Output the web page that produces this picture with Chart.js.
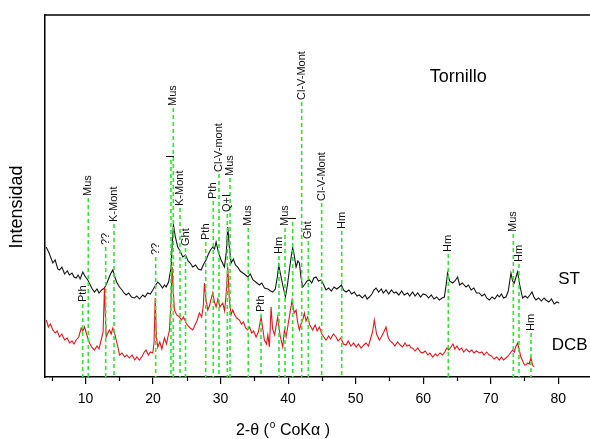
<!DOCTYPE html>
<html>
<head>
<meta charset="utf-8">
<title>Tornillo - DRX</title>
<script src="https://cdn.jsdelivr.net/npm/chart.js"></script>
<style>
  body { margin: 0; overflow: hidden; background: #fff; }
  #wrap { width: 600px; height: 439px; }
</style>
</head>
<body>
<div id="wrap"><canvas id="xrd" width="600" height="439"></canvas></div>
<script>
const FONT = "'Liberation Sans', Arial, Helvetica, sans-serif";

// ST (negro) - 2theta e intensidad
const stX = [4.18, 4.6, 5.16, 5.5, 5.9, 6.15, 6.5, 6.9, 7.3, 7.63, 8.0, 8.3, 8.62, 8.9, 9.2, 9.6, 9.9, 10.34, 10.7, 11.0,
  11.33, 11.7, 12.0, 12.4, 12.81, 13.1, 13.4, 13.7, 14.04, 14.3, 14.6, 15.03, 15.4, 15.7, 16.02, 16.4, 16.8, 17.25, 17.6, 18.0,
  18.48, 18.8, 19.2, 19.6, 19.96, 20.3, 20.7, 21.0, 21.4, 21.7, 21.94, 22.3, 22.68, 22.85, 23.02, 23.3, 23.66, 24.0, 24.4, 24.8,
  25.2, 25.5, 25.88, 26.3, 26.7, 27.12, 27.5, 27.86, 28.2, 28.5, 28.84, 29.1, 29.34, 29.7, 30.08, 30.57, 30.85, 31.06, 31.3, 31.56,
  31.9, 32.2, 32.54, 32.9, 33.3, 33.7, 34.02, 34.4, 34.8, 35.2, 35.75, 36.1, 36.5, 37.0, 37.4, 37.72, 38.1, 38.4, 38.61, 38.9,
  39.2, 39.6, 39.9, 40.19, 40.45, 40.68, 40.9, 41.18, 41.45, 41.67, 41.9, 42.16, 42.5, 42.8, 43.15, 43.5, 43.8, 44.14, 44.5, 44.88,
  45.2, 45.62, 46.0, 46.4, 46.8, 47.2, 47.59, 47.9, 48.2, 48.58, 49.0, 49.4, 49.8, 50.2, 50.55, 51.0, 51.4, 51.7, 52.03, 52.4,
  52.7, 53.02, 53.4, 53.8, 54.1, 54.5, 54.9, 55.3, 55.7, 55.98, 56.4, 56.8, 57.2, 57.7, 58.0, 58.44, 58.8, 59.2, 59.6, 60.0,
  60.42, 60.8, 61.2, 61.6, 62.0, 62.39, 62.8, 63.13, 63.4, 63.62, 63.9, 64.36, 64.7, 65.1, 65.4, 65.8, 66.34, 66.7, 67.1, 67.5,
  67.9, 68.31, 68.7, 69.1, 69.4, 69.79, 70.2, 70.6, 71.0, 71.27, 71.6, 71.9, 72.26, 72.6, 72.8, 73.0, 73.25, 73.49, 73.75, 73.98,
  74.3, 74.72, 75.1, 75.46, 75.8, 76.11, 76.4, 76.7, 77.1, 77.5, 77.9, 78.18, 78.6, 79.0, 79.4, 79.8, 80.15];
const stY = [130, 124, 114, 117, 108, 107, 110, 103, 106, 102, 104, 100, 99, 102, 98, 105, 101, 97, 92, 88,
  85, 88, 84, 87, 89, 93, 98, 103, 107, 101, 95, 90, 87, 84, 82, 84, 80, 79, 81, 78,
  82, 80, 84, 83, 87, 91, 95, 93, 89, 92, 90, 95, 110, 135, 152, 140, 130, 126, 120, 122,
  116, 114, 110, 112, 108, 107, 113, 117, 123, 127, 130, 128, 135, 124, 117, 110, 125, 150, 130, 114,
  118, 112, 110, 106, 104, 102, 100, 103, 97, 95, 92, 94, 89, 88, 86, 85, 88, 100, 112, 102,
  92, 80, 92, 107, 120, 129, 122, 110, 116, 114, 100, 90, 93, 96, 97, 94, 99, 100, 96, 97,
  93, 87, 89, 86, 90, 88, 90, 92, 87, 85, 87, 83, 85, 81, 82, 79, 82, 78, 80, 83,
  87, 89, 85, 88, 84, 87, 83, 87, 84, 85, 82, 86, 82, 84, 81, 85, 81, 84, 80, 83,
  82, 79, 82, 78, 80, 77, 79, 80, 92, 104, 96, 94, 96, 100, 92, 94, 90, 92, 87, 89,
  84, 84, 81, 83, 79, 77, 80, 78, 82, 80, 83, 79, 80, 86, 95, 104, 96, 94, 100, 105,
  92, 79, 81, 79, 82, 85, 80, 77, 79, 76, 79, 77, 75, 78, 73, 75, 74];

// DCB (rojo)
const dcbX = [4.18, 4.5, 4.8, 5.16, 5.5, 5.8, 6.15, 6.5, 6.9, 7.3, 7.63, 8.0, 8.3, 8.62, 9.0, 9.36, 9.6, 9.85, 10.2, 10.59,
  10.9, 11.33, 11.7, 12.0, 12.32, 12.6, 12.81, 12.95, 13.06, 13.3, 13.55, 13.8, 14.04, 14.3, 14.54, 14.8, 15.03, 15.4, 15.8, 16.1,
  16.51, 16.9, 17.3, 17.6, 17.99, 18.4, 18.7, 18.98, 19.3, 19.6, 19.96, 20.15, 20.32, 20.5, 20.7, 21.0, 21.3, 21.69, 22.0, 22.2,
  22.43, 22.65, 22.83, 23.0, 23.17, 23.5, 23.91, 24.2, 24.5, 24.9, 25.2, 25.5, 25.88, 26.2, 26.5, 26.87, 27.2, 27.45, 27.61, 27.8,
  28.1, 28.4, 28.6, 28.84, 29.1, 29.34, 29.6, 29.9, 30.32, 30.6, 30.85, 31.06, 31.3, 31.55, 31.8, 32.1, 32.4, 32.79, 33.1, 33.4,
  33.7, 34.02, 34.3, 34.6, 34.9, 35.26, 35.6, 36.0, 36.25, 36.49, 36.8, 37.0, 37.23, 37.48, 37.7, 38.0, 38.2, 38.46, 38.8, 39.2,
  39.45, 39.7, 39.94, 40.3, 40.59, 40.9, 41.18, 41.4, 41.67, 42.0, 42.2, 42.41, 42.65, 42.9, 43.2, 43.64, 44.0, 44.3, 44.63, 45.0,
  45.3, 45.62, 46.0, 46.3, 46.7, 47.1, 47.4, 47.8, 48.2, 48.58, 48.9, 49.3, 49.7, 50.06, 50.4, 50.8, 51.2, 51.54, 51.9, 52.2,
  52.5, 52.77, 53.1, 53.51, 53.8, 54.1, 54.5, 54.8, 55.1, 55.48, 55.8, 56.2, 56.6, 56.96, 57.3, 57.6, 57.95, 58.2, 58.44, 58.8,
  59.2, 59.6, 59.92, 60.3, 60.7, 61.0, 61.4, 61.8, 62.1, 62.5, 62.88, 63.2, 63.5, 63.8, 64.12, 64.4, 64.7, 65.0, 65.35, 65.7,
  66.0, 66.4, 66.83, 67.2, 67.5, 67.9, 68.31, 68.7, 69.0, 69.4, 69.79, 70.1, 70.5, 70.9, 71.27, 71.6, 71.9, 72.26, 72.6, 72.9,
  73.24, 73.5, 73.7, 73.98, 74.2, 74.47, 74.8, 75.0, 75.21, 75.5, 75.7, 75.95, 76.2, 76.44];
const dcbY = [57, 50, 53, 47, 44, 46, 40, 43, 37, 39, 34, 36, 33, 37, 40, 49, 46, 50, 42, 34,
  30, 27, 31, 28, 37, 45, 89, 60, 40, 44, 47, 43, 49, 44, 37, 30, 22, 24, 20, 22,
  19, 22, 17, 20, 17, 21, 25, 27, 22, 25, 24, 35, 79, 40, 30, 35, 28, 39, 33, 40,
  47, 75, 110, 85, 67, 62, 60, 57, 60, 54, 51, 49, 47, 52, 56, 64, 60, 72, 94, 80,
  67, 72, 78, 84, 75, 70, 78, 70, 74, 66, 85, 110, 78, 62, 67, 62, 59, 57, 53, 55,
  49, 47, 50, 44, 46, 40, 45, 60, 48, 37, 33, 42, 30, 70, 48, 42, 50, 60, 42, 30,
  47, 40, 50, 65, 77, 64, 67, 55, 47, 55, 58, 64, 56, 60, 52, 47, 52, 46, 50, 43,
  40, 37, 41, 38, 43, 40, 36, 39, 33, 32, 36, 31, 34, 30, 33, 29, 32, 34, 31, 38,
  45, 57, 43, 37, 40, 44, 50, 40, 36, 34, 31, 35, 32, 30, 34, 31, 32, 29, 29, 26,
  29, 25, 24, 26, 22, 24, 20, 23, 21, 24, 22, 25, 29, 27, 30, 33, 28, 31, 27, 29,
  25, 28, 25, 27, 24, 26, 24, 25, 22, 25, 22, 21, 18, 20, 17, 20, 17, 19, 21, 24,
  27, 25, 30, 34, 28, 20, 15, 12, 12, 14, 13, 19, 12, 10];

// fases identificadas: posicion, altura de la linea, etiqueta
const markX = [9.58, 10.41, 12.99, 14.22, 20.39, 22.65, 23.0, 23.99, 24.81, 27.8, 28.92, 29.77, 31.0, 31.4,
  34.1, 35.99, 38.65, 39.54, 40.68, 42.01, 42.99, 44.97, 47.94, 63.72, 73.35, 74.19, 75.97];
const markTop = [73, 179, 130, 153, 120, 217, 269, 169, 129, 135, 176, 203, 163, 199,
  149, 63, 121, 149, 155, 275, 136, 174, 146, 123, 143, 113, 44];
const markLabel = ['Pth', 'Mus', '??', 'K-Mont', '??', 'I', 'Mus', 'K-Mont', 'Ght', 'Pth', 'Pth', 'Cl-V-mont', 'Q+I', 'Mus',
  'Mus', 'Pth', 'Hm', 'Mus', 'I', 'Cl-V-Mont', 'Ght', 'Cl-V-Mont', 'Hm', 'Hm', 'Mus', 'Hm', 'Hm'];

const xTicks = [5, 10, 15, 20, 25, 30, 35, 40, 45, 50, 55, 60, 65, 70, 75, 80, 85];

const notes = ['Tornillo', 'ST', 'DCB'];
const noteX = [65.2, 81.6, 81.7];
const noteY = [300, 98, 32];
const noteSize = [18, 17, 17];

const datasets = [
  {
    label: 'ST',
    data: stX.map((x, i) => ({ x: x, y: stY[i] })),
    borderColor: '#141414', borderWidth: 1.1, pointRadius: 0, order: 3
  },
  {
    label: 'DCB',
    data: dcbX.map((x, i) => ({ x: x, y: dcbY[i] })),
    borderColor: '#e5141c', borderWidth: 1.1, pointRadius: 0, order: 2
  }
];
markX.forEach((x, i) => {
  datasets.push({
    label: markLabel[i],
    data: [{ x: x, y: markTop[i] }, { x: x, y: 0 }],
    borderColor: '#2de62d', borderWidth: 1.6, borderDash: [4, 3], pointRadius: 0, order: 1
  });
});

const decor = {
  id: 'decor',
  afterDraw(chart) {
    const ctx = chart.ctx;
    const xs = chart.scales.x, ys = chart.scales.y;
    const area = chart.chartArea;
    ctx.save();
    // marco superior
    ctx.strokeStyle = '#000';
    ctx.lineWidth = 1.5;
    ctx.beginPath();
    ctx.moveTo(area.left, area.top);
    ctx.lineTo(area.right, area.top);
    ctx.lineTo(area.right, area.bottom);
    ctx.stroke();
    // ticks menores
    ctx.lineWidth = 1.2;
    xTicks.filter(v => v % 10 !== 0).forEach(v => {
      const px = Math.round(xs.getPixelForValue(v)) + 0.5;
      ctx.beginPath();
      ctx.moveTo(px, area.bottom);
      ctx.lineTo(px, area.bottom + 4);
      ctx.stroke();
    });
    // etiquetas de fases
    ctx.fillStyle = '#111';
    ctx.font = '11px ' + FONT;
    ctx.textAlign = 'left';
    ctx.textBaseline = 'middle';
    markX.forEach((x, i) => {
      ctx.save();
      ctx.translate(xs.getPixelForValue(x), ys.getPixelForValue(markTop[i]) - 2);
      ctx.rotate(-Math.PI / 2);
      ctx.fillText(markLabel[i], 0, 0);
      ctx.restore();
    });
    // textos
    ctx.fillStyle = '#000';
    ctx.textAlign = 'center';
    notes.forEach((t, i) => {
      ctx.font = noteSize[i] + 'px ' + FONT;
      ctx.fillText(t, xs.getPixelForValue(noteX[i]), ys.getPixelForValue(noteY[i]));
    });
    // titulo eje y
    ctx.save();
    ctx.font = '18px ' + FONT;
    ctx.translate(17, 207);
    ctx.rotate(-Math.PI / 2);
    ctx.fillText('Intensidad', 0, 0);
    ctx.restore();
    // titulo eje x con superindice
    const parts = ['2-\u03B8 (', 'o', ' CoK\u03B1 )'];
    ctx.font = '16px ' + FONT;
    const w0 = ctx.measureText(parts[0]).width;
    const w2 = ctx.measureText(parts[2]).width;
    ctx.font = '10px ' + FONT;
    const w1 = ctx.measureText(parts[1]).width + 1;
    let x0 = 283 - (w0 + w1 + w2) / 2;
    const ty = 431;
    ctx.textAlign = 'left';
    ctx.font = '16px ' + FONT;
    ctx.fillText(parts[0], x0, ty);
    ctx.font = '10px ' + FONT;
    ctx.fillText(parts[1], x0 + w0 + 1, ty - 6);
    ctx.font = '16px ' + FONT;
    ctx.fillText(parts[2], x0 + w0 + w1, ty);
    ctx.restore();
  }
};

new Chart(document.getElementById('xrd'), {
  type: 'line',
  data: { datasets: datasets },
  options: {
    responsive: false,
    animation: false,
    layout: { padding: { top: 15, right: 8, bottom: 0, left: 0 } },
    plugins: { legend: { display: false }, tooltip: { enabled: false } },
    elements: { line: { tension: 0 } },
    scales: {
      x: {
        type: 'linear', min: 4, max: 85,
        afterFit: s => { s.height = 62; },
        afterBuildTicks: s => { s.ticks = xTicks.map(v => ({ value: v })); },
        grid: {
          drawOnChartArea: false, drawTicks: true, tickLength: 7, lineWidth: 1.2,
          color: c => (c.tick && c.tick.value % 10 === 0) ? '#000' : 'rgba(0,0,0,0)'
        },
        border: { color: '#000', width: 1.5 },
        ticks: {
          padding: 7, color: '#000', autoSkip: false, maxRotation: 0,
          font: { family: FONT, size: 14 },
          callback: v => (v % 10 === 0 ? v : '')
        }
      },
      y: {
        min: 0, max: 362,
        afterFit: s => { s.width = 45; },
        ticks: { display: false },
        grid: { display: false },
        border: { color: '#000', width: 1.5 }
      }
    }
  },
  plugins: [decor]
});
</script>
</body>
</html>
